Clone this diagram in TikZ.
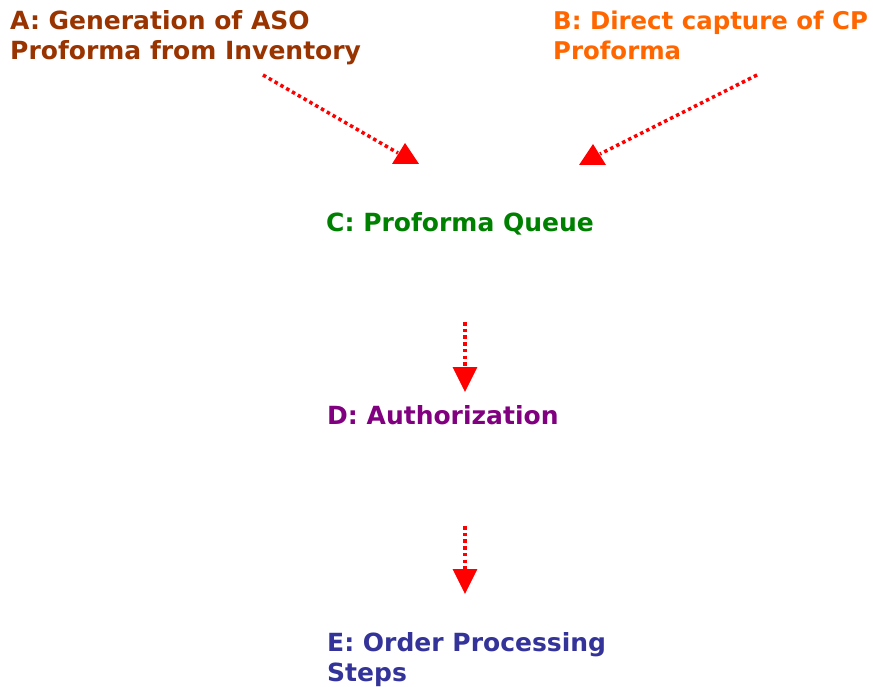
\documentclass[tikz,border=0pt]{standalone}
\usepackage{fontspec}
\setmainfont{DejaVu Sans}
\usepackage{tikz}
\usetikzlibrary{arrows.meta,positioning}
\definecolor{brownA}{HTML}{993300}
\definecolor{orangeB}{HTML}{FF6600}
\definecolor{greenC}{HTML}{008000}
\definecolor{purpleD}{HTML}{800080}
\definecolor{blueE}{HTML}{333399}
\begin{document}
\begin{tikzpicture}[x=1pt,y=-1pt,
    lbl/.style={anchor=base west,inner sep=0pt,align=left,
      font=\fontsize{25}{30}\selectfont\bfseries},
    flow/.style={red,line width=3.5pt,dash pattern=on 3.5pt off 3.2pt},
    flowtip/.style={flow,-{Triangle[length=25pt,width=24pt]}}]
    %% \draw[help lines] (0,0) grid (873,687);
    \useasboundingbox (0,0) rectangle (873,687);
    %% base of a two-line label is its last line
    \node[lbl,text=brownA]  (A) at (10,60)  {A: Generation of ASO\\Proforma from Inventory};
    \node[lbl,text=orangeB,font=\fontsize{24.4}{30}\selectfont\bfseries]
                            (B) at (553,60) {B: Direct capture of CP\\Proforma};
    \node[lbl,text=greenC]  (C) at (326,232) {C: Proforma Queue};
    \node[lbl,text=purpleD] (D) at (327,424) {D: Authorization};
    \node[lbl,text=blueE]   (E) at (327,681) {E: Order Processing\\Steps};
    %% free ends of the arrows
    \coordinate (A0) at (263,75);
    \coordinate (A1) at (398,153);
    \coordinate (tipA) at (405,143);
    \coordinate (B0) at (757,75);
    \coordinate (B1) at (600,154);
    \coordinate (tipB) at (593,144);
    \coordinate (C0) at (465,322);
    \coordinate (C1) at (465,392);
    \coordinate (D0) at (465,526);
    \coordinate (D1) at (465,594);
    \draw[flow] (A0) -- (A1);
    \fill[red] (tipA) -- ++(14,21) -- ++(-27,0) -- cycle;
    \draw[flow] (B0) -- (B1);
    \fill[red] (tipB) -- ++(13,21) -- ++(-27,0) -- cycle;
    \draw[flowtip] (C0) -- (C1);
    \draw[flowtip] (D0) -- (D1);
  \end{tikzpicture}
\end{document}
